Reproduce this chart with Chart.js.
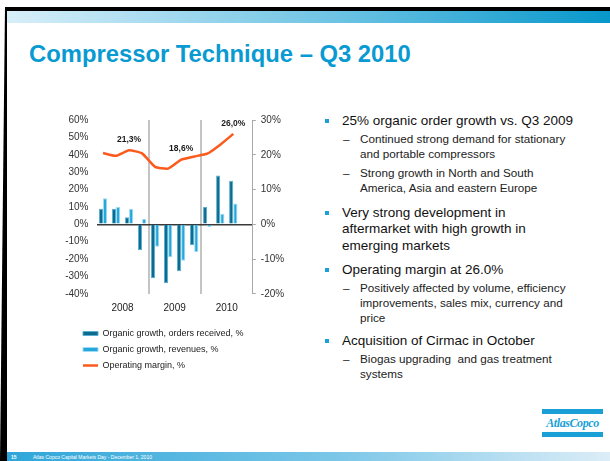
<!DOCTYPE html>
<html>
<head>
<meta charset="utf-8">
<script src="https://cdn.jsdelivr.net/npm/chart.js@4.4.1/dist/chart.umd.min.js"></script>
<style>
  html, body { margin: 0; padding: 0; background: #fff; }
  body { width: 610px; height: 461px; position: relative; overflow: hidden; font-family: "Liberation Sans", Arial, sans-serif; }
  .frame-top { position: absolute; left: 5px; top: 7px; width: 605px; height: 4px; background: #000; }
  .frame-left { position: absolute; left: 0; top: 7px; width: 7px; height: 454px; background: #000; clip-path: polygon(5px 0, 7px 0, 7px 100%, 0 100%); }
  .band-top { position: absolute; left: 7px; top: 11px; width: 603px; height: 12px; background: linear-gradient(to right, #d8eff9, #6cc3e4 55%, #0797cb); }
  .footer { position: absolute; left: 7px; top: 452px; width: 603px; height: 9px; background: linear-gradient(to right, #2ea6d9, #7cc7e8 55%, #dcedf7); }
  .footer span { position: absolute; top: 2px; color: #fff; font-size: 5px; line-height: 6px; }
  .title { position: absolute; left: 29px; top: 39.5px; font-size: 23.8px; font-weight: bold; color: #0a9ad2; white-space: nowrap; }
  #chartBox { position: absolute; left: 65px; top: 106px; width: 229px; height: 274px; }
  .main { position: absolute; left: 342px; font-size: 13.5px; line-height: 16.5px; color: #111; white-space: nowrap; }
  .main::before { content: ""; position: absolute; left: -17px; top: 6px; width: 4px; height: 4px; background: #1ea0d6; }
  .sub { position: absolute; left: 360px; font-size: 11.7px; line-height: 15px; color: #222; white-space: nowrap; }
  .sub::before { content: "\2013"; position: absolute; left: -17px; top: 0; }
  .logo { position: absolute; left: 542px; top: 409px; width: 61px; height: 29px; }
  .logo .bar { position: absolute; left: 0; width: 61px; height: 5px; background: #1a9fd6; }
  .logo .txt { position: absolute; left: 0; top: 7px; width: 61px; text-align: center; font-family: "Liberation Serif", serif; font-style: italic; font-weight: bold; font-size: 12px; line-height: 14px; color: #1a9fd6; letter-spacing: -0.4px; }
</style>
</head>
<body>
<div class="frame-top"></div>
<div class="frame-left"></div>
<div class="band-top"></div>
<div class="title">Compressor Technique – Q3 2010</div>

<div id="chartBox"><canvas id="chart"></canvas></div>

<div class="main" style="top:112.5px">25% organic order growth vs. Q3 2009</div>
<div class="sub" style="top:131px">Continued strong demand for stationary<br>and portable compressors</div>
<div class="sub" style="top:165px">Strong growth in North and South<br>America, Asia and eastern Europe</div>
<div class="main" style="top:204.5px">Very strong development in<br>aftermarket with high growth in<br>emerging markets</div>
<div class="main" style="top:261.5px">Operating margin at 26.0%</div>
<div class="sub" style="top:279.5px">Positively affected by volume, efficiency<br>improvements, sales mix, currency and<br>price</div>
<div class="main" style="top:333px">Acquisition of Cirmac in October</div>
<div class="sub" style="top:351px">Biogas upgrading&nbsp; and gas treatment<br>systems</div>

<div class="logo">
  <div class="bar" style="top:0"></div>
  <div class="txt">AtlasCopco</div>
  <div class="bar" style="top:23px"></div>
</div>

<div class="footer">
  <span style="left:4px; font-weight:bold;">15</span>
  <span style="left:26px;">Atlas Copco Capital Markets Day - December 1, 2010</span>
</div>

<script>
const quarters = [
  "Q1 2008", "Q2 2008", "Q3 2008", "Q4 2008",
  "Q1 2009", "Q2 2009", "Q3 2009", "Q4 2009",
  "Q1 2010", "Q2 2010", "Q3 2010", "Q4 2010",
];
const years = ["2008", "2009", "2010"];

// organic growth in %, left axis
const ordersGrowth = [9, 9, 4, -15, -31, -34, -27, -12, 10, 28, 25, null];
const revenuesGrowth = [15, 10, 9, 3, -13, -19, -21, -16, -1.5, 6, 12, null];
// operating margin in %, right axis
const operatingMargin = [20.5, 19.7, 21.3, 20.4, 16.5, 16.0, 18.6, 19.5, 20.3, 22.9, 26.0, null];
const labelledQuarters = ["Q3 2008", "Q3 2009", "Q3 2010"];

const FONT = '"Liberation Sans", Arial, sans-serif';
Chart.defaults.font.family = FONT;

const marginLabels = {
  id: "marginLabels",
  afterDatasetsDraw(chart) {
    const meta = chart.getDatasetMeta(2);
    const ctx = chart.ctx;
    ctx.save();
    ctx.font = `bold 8.5px ${FONT}`;
    ctx.fillStyle = "#1a1a1a";
    ctx.textAlign = "center";
    ctx.textBaseline = "middle";
    for (const q of labelledQuarters) {
      const i = quarters.indexOf(q);
      const pt = meta.data[i];
      const text = operatingMargin[i].toFixed(1).replace(".", ",") + "%";
      ctx.fillText(text, pt.x, pt.y - 10.5);
    }
    ctx.restore();
  },
};

// legend sits indented under the plot, not flush with the axis labels
const legendIndent = {
  id: "legendIndent",
  afterLayout(chart) {
    chart.legend.left += 11;
  },
};

new Chart(document.getElementById("chart"), {
  type: "bar",
  data: {
    labels: quarters,
    datasets: [
      {
        label: "Organic growth, orders received, %",
        data: ordersGrowth,
        backgroundColor: "#0d6b8f",
        borderColor: "#5aaed0",
        borderWidth: 1,
        pointStyle: "rect",
        xAxisID: "x",
        yAxisID: "y",
        order: 1,
      },
      {
        label: "Organic growth, revenues, %",
        data: revenuesGrowth,
        backgroundColor: "#25a7dc",
        borderColor: "#9edbf3",
        borderWidth: 1,
        pointStyle: "rect",
        xAxisID: "x",
        yAxisID: "y",
        order: 1,
      },
      {
        label: "Operating margin, %",
        type: "line",
        data: operatingMargin,
        borderColor: "#fb5a1c",
        backgroundColor: "#fb5a1c",
        borderWidth: 2.5,
        pointRadius: 0,
        pointStyle: "line",
        tension: 0.15,
        xAxisID: "x",
        yAxisID: "y1",
        order: 0,
      },
    ],
  },
  options: {
    responsive: true,
    maintainAspectRatio: false,
    animation: false,
    categoryPercentage: 0.64,
    barPercentage: 1.0,
    layout: { padding: { left: 0, top: 12.3, right: 0, bottom: 0 } },
    plugins: {
      tooltip: { enabled: false },
      legend: {
        position: "bottom",
        align: "start",
        labels: {
          usePointStyle: true,
          pointStyleWidth: 15,
          boxHeight: 4,
          padding: 7,
          color: "#1a1a1a",
          font: { size: 9 },
          sort: (a, b) => a.datasetIndex - b.datasetIndex,
        },
      },
    },
    scales: {
      x: {
        type: "category",
        labels: quarters,
        display: false,
        offset: true,
        grid: { display: false },
      },
      xYears: {
        type: "category",
        labels: years,
        position: "bottom",
        offset: true,
        grid: {
          offset: true,
          drawTicks: false,
          lineWidth: 2,
          color: (ctx) => (ctx.index === 1 || ctx.index === 2 ? "#c4c4c4" : "rgba(0,0,0,0)"),
        },
        border: { display: false },
        ticks: { padding: 8, color: "#222", font: { size: 10 } },
        afterFit: (scale) => { scale.height = 28.2; },
      },
      y: {
        position: "left",
        min: -40,
        max: 60,
        ticks: {
          stepSize: 10,
          padding: 8,
          color: "#333",
          font: { size: 10 },
          callback: (v) => v + "%",
        },
        grid: {
          drawTicks: false,
          lineWidth: 1.5,
          color: (ctx) => (ctx.tick && ctx.tick.value === 0 ? "#3a3a3a" : "rgba(0,0,0,0)"),
        },
        border: { display: false },
        afterFit: (scale) => { scale.width = 31.5; },
      },
      y1: {
        position: "right",
        min: -20,
        max: 30,
        ticks: {
          stepSize: 10,
          padding: 5,
          color: "#333",
          font: { size: 10 },
          callback: (v) => v + "%",
        },
        grid: { drawOnChartArea: false, tickLength: 3, color: "#a8a8a8" },
        border: { display: true, color: "#a8a8a8" },
        afterFit: (scale) => { scale.width = 41.2; },
      },
    },
  },
  plugins: [marginLabels, legendIndent],
});
</script>
</body>
</html>
